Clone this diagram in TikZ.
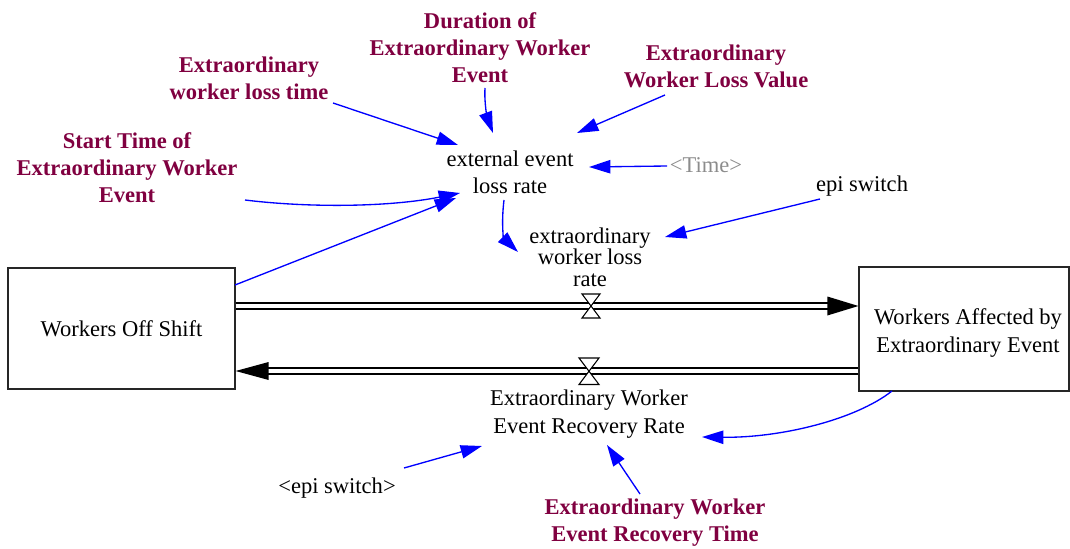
\documentclass[tikz,border=0pt]{standalone}
\usepackage{fontspec}
\setmainfont{Liberation Serif}
\usetikzlibrary{calc,arrows.meta}
\definecolor{varcol}{RGB}{128,0,64}
\definecolor{linkcol}{RGB}{0,0,255}
\begin{document}
\begin{tikzpicture}[x=0.75pt,y=-0.75pt,
  txt/.style={align=center,inner sep=0pt,font=\fontsize{16.9}{20.5}\selectfont},
  cons/.style={txt,text=varcol,font=\fontsize{16.9}{20.3}\selectfont\bfseries},
  shadow/.style={txt,text=black!45},
  stock/.style={draw=black!85,line width=0.9pt,align=center,inner sep=0pt,
    font=\fontsize{16.9}{21}\selectfont},
  link/.style={draw=linkcol,line width=1pt,-{Triangle[length=16pt,width=10pt]}},
  pipe/.style={draw=black,line width=1pt,double=white,double distance=3.3pt},
  valve/.style={fill=white,draw=black,line width=0.8pt,line join=miter}]
\useasboundingbox (0,0) rectangle (1070,549);

% stocks
\node[stock,minimum width=170.25pt,minimum height=90.75pt] (off) at (121.5,328.5) {Workers Off Shift};
\node[stock,minimum width=157.5pt,minimum height=93pt] (aff) at (964,329) {};
\node[txt,font=\fontsize{16.9}{21}\selectfont] (afftxt) at (968,332.5) {Workers Affected by\\Extraordinary Event};

% auxiliaries and constants
\node[cons] (ltime) at (249,78) {Extraordinary\\worker loss time};
\node[cons] (dur) at (480,47.5) {Duration of\\Extraordinary Worker\\Event};
\node[cons] (lval) at (716,66) {Extraordinary\\Worker Loss Value};
\node[cons] (start) at (127,168) {Start Time of\\Extraordinary Worker\\Event};
\node[txt] (elr) at (510,172.5) {external event\\loss rate};
\node[shadow] (time) at (706,165) {<Time>};
\node[txt] (epi) at (862,186) {epi switch};
\node[txt,font=\fontsize{16.9}{16.2}\selectfont] (ewlr) at (590,257) {extraordinary\\worker loss\\rate};
\node[txt] (rec) at (589,414) {Extraordinary Worker\\Event Recovery Rate};
\node[txt] (epi2) at (337,488) {<epi switch>};
\node[cons] (rtime) at (655,522.5) {Extraordinary Worker\\Event Recovery Time};

% flow valves
\coordinate (v1) at (591,306);
\coordinate (v2) at (589,371);

% outflow: Workers Off Shift -> Workers Affected
\draw[pipe] (off.east |- v1) -- ($(aff.west |- v1)+(-30,0)$);
\fill ($(aff.west |- v1)$) -- ++(-31,9.5) -- ++(0,-19) -- cycle;
% return flow: Workers Affected -> Workers Off Shift
\draw[pipe] (aff.west |- v2) -- ($(off.east |- v2)+(32,0)$);
\fill ($(off.east |- v2)$) -- ++(33,9) -- ++(0,-18) -- cycle;

\draw[valve] ($(v1)+(-9,-12)$) -- ($(v1)+(9,-12)$) -- ($(v1)+(-9,12)$) -- ($(v1)+(9,12)$) -- cycle;
\draw[valve] ($(v2)+(-10,-13)$) -- ($(v2)+(10,-13)$) -- ($(v2)+(-10,13.5)$) -- ($(v2)+(10,13.5)$) -- cycle;

% causal links
\draw[link] ($(ltime)+(84,25)$) -- ($(elr)+(-52,-27.5)$);
\draw[link] ($(dur)+(5,40.5)$) .. controls ($(dur)+(4,57)$) and ($(dur)+(8,72)$) .. ($(elr)+(-17,-39.5)$);
\draw[link] ($(lval)+(-51,29)$) -- ($(elr)+(67,-39.5)$);
\draw[link] ($(time)+(-39,1)$) -- ($(elr)+(79,-5.5)$);
\draw[link] ($(start)+(118,32)$) .. controls ($(start)+(183,40)$) and ($(start)+(263,39)$) .. ($(elr)+(-50,20.5)$);
\draw[link] ($(off)+(113.5,-43.5)$) -- ($(elr)+(-54,25.5)$);
\draw[link] ($(elr)+(-6,27.5)$) .. controls ($(elr)+(-9,52)$) and ($(elr)+(-6,66)$) .. ($(ewlr)+(-72,-5)$);
\draw[link] ($(epi)+(-42,13)$) -- ($(ewlr)+(75,-20)$);
\draw[link] ($(aff)+(-72,62)$) .. controls ($(aff)+(-109,91)$) and ($(aff)+(-184,109)$) .. ($(rec)+(113,23)$);
\draw[link] ($(epi2)+(67,-20)$) -- ($(rec)+(-107,32)$);
\draw[link] ($(rtime)+(-15,-28.5)$) -- ($(rec)+(18,31)$);
\end{tikzpicture}
\end{document}
